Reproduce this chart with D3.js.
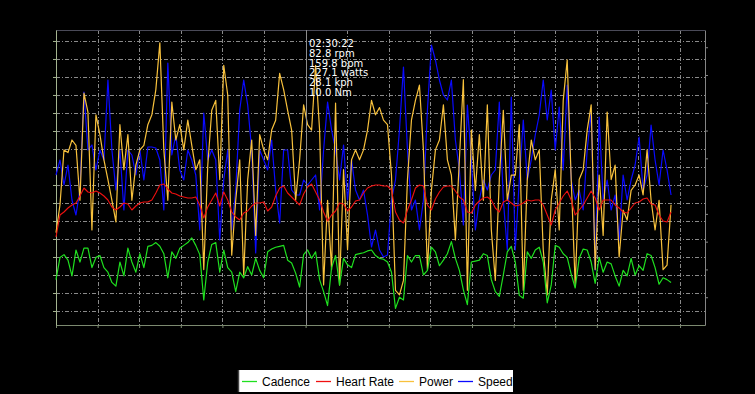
<!DOCTYPE html>
<html>
<head>
<meta charset="utf-8">
<script src="https://cdn.jsdelivr.net/npm/d3@7"></script>
<style>
  html, body { margin: 0; padding: 0; background: #000; }
  svg { display: block; }
</style>
</head>
<body>
<svg id="ride" width="755" height="394"></svg>
<script>
// ride samples, one every 144 s (2.4 min)
const sampleSec = 144;
const rideEndSec = 23400;

const seriesNames = ['Cadence', 'Heart Rate', 'Power', 'Speed'];

// rpm
const cadence = [
  49, 73, 76, 70, 53, 81, 68, 83, 83, 62,
  73, 75, 62, 57, 46, 42, 68, 53, 83, 68,
  57, 77, 62, 85, 86, 89, 85, 77, 51, 79,
  72, 83, 86, 89, 94, 86, 76, 27, 68, 87,
  89, 57, 81, 62, 57, 36, 57, 51, 63, 54,
  72, 59, 51, 79, 82, 84, 85, 86, 70, 67,
  56, 41, 76, 81, 72, 79, 49, 36, 21, 62,
  75, 43, 72, 65, 62, 76, 77, 78, 80, 81,
  75, 72, 71, 68, 57, 18, 30, 27, 75, 68,
  75, 75, 54, 59, 84, 79, 64, 70, 77, 90,
  72, 59, 38, 22, 68, 69, 70, 77, 75, 49,
  36, 31, 54, 79, 85, 68, 32, 29, 79, 72,
  81, 84, 68, 24, 43, 86, 84, 77, 73, 55,
  40, 72, 82, 81, 68, 45, 73, 57, 68, 66,
  53, 42, 59, 53, 72, 54, 64, 59, 77, 75,
  62, 44, 51, 49, 46
];

// bpm
const heartRate = [
  110, 132, 135, 139, 142, 144, 151, 159, 155, 154,
  156, 154, 151, 147, 140, 137, 140, 144, 143, 137,
  141, 144, 145, 145, 147, 154, 162, 163, 158, 154,
  153, 151, 150, 149, 149, 150, 142, 129, 140, 147,
  154, 141, 155, 147, 135, 130, 127, 134, 136, 141,
  144, 144, 145, 136, 140, 151, 159, 161, 154, 150,
  146, 142, 153, 160, 163, 155, 147, 135, 126, 132,
  136, 144, 143, 136, 140, 146, 147, 154, 159, 161,
  162, 162, 161, 161, 157, 135, 127, 124, 137, 147,
  159, 162, 161, 142, 137, 148, 155, 160, 161, 161,
  156, 150, 147, 135, 134, 142, 146, 149, 150, 147,
  139, 135, 145, 147, 144, 141, 142, 144, 147, 146,
  147, 147, 142, 132, 122, 137, 144, 151, 156, 147,
  132, 137, 142, 149, 156, 149, 137, 147, 147, 147,
  142, 139, 135, 134, 139, 144, 145, 148, 149, 143,
  142, 132, 126, 125, 135
];

// watts
const power = [
  87, 118, 179, 176, 190, 184, 123, 242, 221, 90,
  218, 196, 168, 146, 123, 99, 207, 157, 196, 123,
  162, 179, 184, 207, 218, 246, 298, 179, 123, 232,
  190, 207, 179, 212, 184, 157, 168, 46, 162, 223,
  234, 146, 273, 240, 62, 123, 168, 40, 146, 190,
  84, 196, 179, 168, 201, 212, 264, 246, 223, 201,
  123, 168, 229, 207, 201, 273, 201, 29, 123, 46,
  231, 29, 157, 68, 168, 179, 168, 179, 201, 234,
  218, 226, 212, 207, 151, 23, 18, 34, 146, 212,
  234, 251, 179, 46, 134, 179, 190, 229, 168, 151,
  79, 168, 257, 23, 201, 134, 196, 123, 229, 90,
  34, 146, 223, 123, 151, 151, 207, 23, 146, 190,
  168, 179, 68, 18, 123, 157, 90, 234, 279, 146,
  29, 146, 157, 201, 229, 46, 151, 84, 221, 146,
  162, 60, 112, 101, 134, 140, 151, 129, 179, 123,
  90, 123, 46, 51, 118
];

// kph
const speed = [
  30, 33, 28, 32, 25, 22, 27, 46.6, 35, 36,
  31, 35, 33, 49, 35, 27, 35, 23, 35, 34,
  30, 35, 29, 35.6, 35.6, 35.4, 33, 23, 52.4, 34,
  38, 31, 29, 35, 33, 30, 19, 42.4, 33, 35,
  33, 17, 29, 35, 19, 27, 43, 49, 44, 35,
  14.4, 35, 33, 31, 37, 27, 20.4, 35, 35, 27,
  26, 26, 29, 28, 29, 30, 23, 35, 44.6, 39,
  35, 29, 36, 25, 33, 27, 25, 27, 22, 15.6,
  19, 15, 13.6, 14, 25, 29, 39, 51.6, 35, 23,
  25, 19, 25, 43, 56, 53, 49, 46, 45, 49,
  37, 31, 20, 44, 33, 19, 25, 29, 27, 30,
  31, 44.6, 25, 15, 45.6, 15, 29, 41, 29, 33,
  38, 42, 49, 41, 47, 35, 43.6, 31, 48, 29,
  25, 27, 23, 35, 42.6, 11, 41.6, 25, 29, 23,
  26, 17, 30, 25, 29, 32, 37.6, 27, 30, 40,
  33, 28, 35, 31, 26
];

// cursor read-out
const cursorSec = 9022;
const cursorLines = ['02:30:22', '82.8 rpm', '159.8 bpm', '227.1 watts', '28.1 kph', '10.0 Nm'];

const timeTicks = d3.range(0, 22501, 1500);
const powerTicks = d3.range(0, 301, 20);
const cadenceTicks = d3.range(30, 301, 30);

const colors = {
  Cadence: '#1fe01f',
  'Heart Rate': '#f01010',
  Power: '#f8c13c',
  Speed: '#0a0aff'
};

function drawRide(id) {
  const svg = d3.select(`#${id}`);
  const left = 56;
  const right = 705;
  const top = 30;
  const bottom = 325;

  const x = d3.scaleLinear().domain([0, rideEndSec]).range([left, right]);
  // each curve has its own axis, none labelled
  const yPower = d3.scaleLinear().domain([-15.56, 312.2]).range([bottom, top]);
  const yCadence = d3.scaleLinear().domain([0, 318.6]).range([bottom, top]);
  const yHr = d3.scaleLinear().domain([22, 317]).range([bottom, top]);
  const ySpeed = d3.scaleLinear().domain([0, 59]).range([bottom, top]);

  svg.append('rect')
    .attr('width', 755)
    .attr('height', 394)
    .attr('fill', '#000');

  // grid
  const grid = svg.append('g').attr('class', 'grid')
    .attr('stroke', '#8a8a8a')
    .attr('stroke-width', 1)
    .attr('stroke-dasharray', '4,2,1,2');
  grid.selectAll('.h')
    .data(powerTicks)
    .enter()
    .append('line')
    .attr('x1', left)
    .attr('x2', right)
    .attr('y1', d => Math.round(yPower(d)) + 0.5)
    .attr('y2', d => Math.round(yPower(d)) + 0.5);
  grid.selectAll('.v')
    .data(timeTicks.slice(1))
    .enter()
    .append('line')
    .attr('x1', d => Math.round(x(d)) + 0.5)
    .attr('x2', d => Math.round(x(d)) + 0.5)
    .attr('y1', top)
    .attr('y2', bottom);

  // frame
  svg.append('line')
    .attr('x1', left).attr('x2', right)
    .attr('y1', top + 0.5).attr('y2', top + 0.5)
    .attr('stroke', '#4a4a58');

  const xAxis = svg.append('g')
    .attr('transform', `translate(0,${bottom})`)
    .call(d3.axisBottom(x).tickValues(timeTicks).tickSize(3).tickSizeOuter(0).tickFormat(''));
  xAxis.selectAll('path, line').attr('stroke', '#7c8a70');

  const yAxis = svg.append('g')
    .attr('transform', `translate(${left},0)`)
    .call(d3.axisLeft(yPower).tickValues(powerTicks).tickSize(3).tickSizeOuter(0).tickFormat(''));
  yAxis.selectAll('path, line').attr('stroke', '#a4b490');

  const rAxis = svg.append('g')
    .attr('transform', `translate(${right},0)`)
    .call(d3.axisRight(yCadence).tickValues(cadenceTicks).tickSize(3).tickSizeOuter(0).tickFormat(''));
  rAxis.selectAll('path, line').attr('stroke', '#858585');

  // curves
  const curves = [
    { name: 'Speed', values: speed, y: ySpeed, w: 1.2 },
    { name: 'Power', values: power, y: yPower, w: 1.2 },
    { name: 'Cadence', values: cadence, y: yCadence, w: 1.2 },
    { name: 'Heart Rate', values: heartRate, y: yHr, w: 1.1 }
  ];
  const plot = svg.append('g').attr('class', 'curves');
  curves.forEach((c) => {
    const line = d3.line()
      .x((d, i) => x(i * sampleSec))
      .y(d => c.y(d));
    plot.append('path')
      .datum(c.values)
      .attr('fill', 'none')
      .attr('stroke', colors[c.name])
      .attr('stroke-width', c.w)
      .attr('stroke-linejoin', 'round')
      .attr('d', line);
  });

  // cursor
  const cx = Math.round(x(cursorSec)) + 0.5;
  svg.append('line')
    .attr('x1', cx).attr('x2', cx)
    .attr('y1', top).attr('y2', bottom)
    .attr('stroke', '#8c8c8c');
  // one text block, one tspan per line
  svg.append('text')
    .attr('class', 'readout')
    .attr('x', cx + 2.5)
    .attr('y', 47)
    .attr('fill', '#fff')
    .attr('font-family', 'DejaVu Sans, Verdana, sans-serif')
    .attr('font-size', 10)
    .selectAll('tspan')
    .data(cursorLines)
    .enter()
    .append('tspan')
    .attr('x', cx + 2.5)
    .attr('dy', (d, i) => (i === 0 ? 0 : 9.8))
    .text(d => d);

  // legend
  const legend = svg.append('g').attr('class', 'legend');
  legend.append('rect')
    .attr('x', 238)
    .attr('y', 370)
    .attr('width', 275)
    .attr('height', 22)
    .attr('fill', '#fff');
  legend.append('line')
    .attr('x1', 238.5).attr('x2', 238.5)
    .attr('y1', 370).attr('y2', 392)
    .attr('stroke', '#444')
    .attr('stroke-width', 1.5);
  const itemX = [242, 316, 399, 458];
  seriesNames.forEach((name, i) => {
    legend.append('line')
      .attr('x1', itemX[i]).attr('x2', itemX[i] + 15)
      .attr('y1', 381.5).attr('y2', 381.5)
      .attr('stroke', colors[name])
      .attr('stroke-width', 1.3);
    legend.append('text')
      .attr('x', itemX[i] + 20)
      .attr('y', 385.5)
      .attr('fill', '#000')
      .attr('font-family', 'Liberation Sans, Arial, sans-serif')
      .attr('font-size', 12)
      .text(name);
  });
}

drawRide('ride');
</script>
</body>
</html>
